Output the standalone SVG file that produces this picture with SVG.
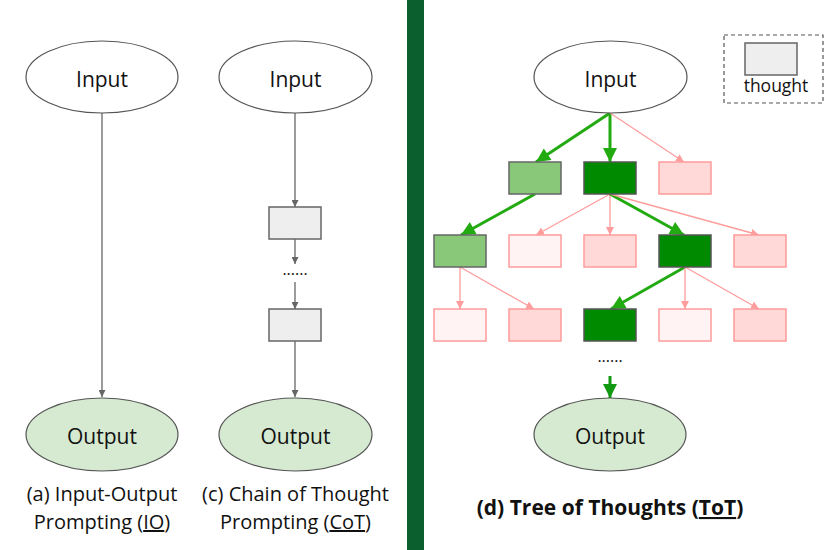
<svg xmlns="http://www.w3.org/2000/svg" width="840" height="550" viewBox="0 0 840 550">
<defs>
<style>
.t{font-family:"Open Sans","Liberation Sans",sans-serif;fill:#111;}
.lbl{font-size:21px;text-anchor:middle;}
.cap{font-size:20px;text-anchor:middle;}
.bold{font-size:21px;font-weight:bold;text-anchor:middle;}
.dots{font-size:16px;text-anchor:middle;}
.ein{fill:#fff;stroke:#555;stroke-width:1.2;}
.eout{fill:#d5ead0;stroke:#555;stroke-width:1.2;}
.gray{fill:#eeeeee;stroke:#666;stroke-width:1.5;}
.lg{fill:#88c878;stroke:#666;stroke-width:1.5;}
.dg{fill:#008a00;stroke:#555;stroke-width:1.5;}
.pk{fill:#ffd8d8;stroke:#ff9c9c;stroke-width:1.5;}
.vp{fill:#fff3f3;stroke:#ff9c9c;stroke-width:1.5;}
.eg{stroke:#666;stroke-width:1.3;fill:none;marker-end:url(#ag);}
.ep{stroke:#ff9c9c;stroke-width:1.3;fill:none;marker-end:url(#ap);}
.ex{stroke:#22aa11;stroke-width:3;fill:none;marker-end:url(#ax);}
</style>
<marker id="ag" viewBox="0 0 10 10" refX="10" refY="5" markerUnits="userSpaceOnUse" markerWidth="9" markerHeight="7" orient="auto"><path d="M0,0 L10,5 L0,10z" fill="#666"/></marker>
<marker id="ap" viewBox="0 0 10 10" refX="10" refY="5" markerUnits="userSpaceOnUse" markerWidth="8" markerHeight="8" orient="auto"><path d="M0,0 L10,5 L0,10z" fill="#ff9c9c"/></marker>
<marker id="ax" viewBox="0 0 10 10" refX="10" refY="5" markerUnits="userSpaceOnUse" markerWidth="16" markerHeight="14" orient="auto"><path d="M0,0 L10,5 L0,10z" fill="#22aa11"/></marker>
<marker id="ad" viewBox="0 0 10 10" refX="10" refY="5" markerUnits="userSpaceOnUse" markerWidth="15" markerHeight="14" orient="auto"><path d="M0,0 L10,5 L0,10z" fill="#129912"/></marker>
</defs>
<rect width="840" height="550" fill="#fff"/>
<rect id="divider" x="407" y="0" width="17" height="550" fill="#0b5e2e"/>

<g id="connectors">
<line class="eg" x1="102" y1="113" x2="102" y2="397"/>
<line class="eg" x1="295" y1="113" x2="295" y2="207"/>
<line class="eg" x1="295" y1="239" x2="295" y2="264"/>
<line class="eg" x1="295" y1="282" x2="295" y2="309"/>
<line class="eg" x1="295" y1="341" x2="295" y2="397"/>

<line class="ex" x1="610" y1="113" x2="536" y2="162"/>
<line class="ex" x1="610" y1="113" x2="610" y2="162"/>
<line class="ep" x1="610" y1="113" x2="684" y2="162"/>
<line class="ex" x1="535" y1="194" x2="461" y2="235"/>
<line class="ep" x1="610" y1="194" x2="536" y2="235"/>
<line class="ep" x1="610" y1="194" x2="610" y2="235"/>
<line class="ex" x1="610" y1="194" x2="684" y2="235"/>
<line class="ep" x1="610" y1="194" x2="759" y2="235"/>
<line class="ep" x1="460" y1="267" x2="460" y2="309"/>
<line class="ep" x1="460" y1="267" x2="534" y2="309"/>
<line class="ex" x1="685" y1="267" x2="611" y2="309"/>
<line class="ep" x1="685" y1="267" x2="685" y2="309"/>
<line class="ep" x1="685" y1="267" x2="759" y2="309"/>
<line x1="610" y1="376" x2="610" y2="398" stroke="#129912" stroke-width="3" marker-end="url(#ad)"/>
</g>

<g id="io-input"><ellipse class="ein" cx="102" cy="77" rx="76" ry="36"/><text class="t lbl" x="102" y="87">Input</text></g>
<g id="io-output"><ellipse class="eout" cx="102" cy="434.5" rx="76" ry="36.5"/><text class="t lbl" x="102" y="444">Output</text></g>
<g id="io-caption"><text class="t cap" x="102" y="501">(a) Input-Output</text><text class="t cap" x="102" y="529">Prompting (<tspan text-decoration="underline">IO</tspan>)</text></g>

<g id="cot-input"><ellipse class="ein" cx="295.5" cy="77" rx="76.5" ry="36"/><text class="t lbl" x="295.5" y="87">Input</text></g>
<g id="cot-t1"><rect class="gray" x="269" y="207" width="52" height="32"/></g>
<g id="cot-dots"><text class="t dots" x="295" y="275">......</text></g>
<g id="cot-t2"><rect class="gray" x="269" y="309" width="52" height="32"/></g>
<g id="cot-output"><ellipse class="eout" cx="295.5" cy="434.5" rx="76.5" ry="36.5"/><text class="t lbl" x="295.5" y="444">Output</text></g>
<g id="cot-caption"><text class="t cap" x="295.5" y="501">(c) Chain of Thought</text><text class="t cap" x="295.5" y="529">Prompting (<tspan text-decoration="underline">CoT</tspan>)</text></g>

<g id="legend"><rect x="724" y="35" width="99" height="68" fill="none" stroke="#555" stroke-width="1.2" stroke-dasharray="4,3"/><rect class="gray" x="745" y="43" width="52" height="32"/><text class="t" x="776" y="92" font-size="17.5" text-anchor="middle">thought</text></g>

<g id="tot-input"><ellipse class="ein" cx="610.5" cy="77" rx="76.5" ry="36"/><text class="t lbl" x="610.5" y="87">Input</text></g>
<g id="r1a"><rect class="lg" x="509" y="162" width="52" height="32"/></g>
<g id="r1b"><rect class="dg" x="584" y="162" width="52" height="32"/></g>
<g id="r1c"><rect class="pk" x="659" y="162" width="52" height="32"/></g>
<g id="r2a"><rect class="lg" x="434" y="235" width="52" height="32"/></g>
<g id="r2b"><rect class="vp" x="509" y="235" width="52" height="32"/></g>
<g id="r2c"><rect class="pk" x="584" y="235" width="52" height="32"/></g>
<g id="r2d"><rect class="dg" x="659" y="235" width="52" height="32"/></g>
<g id="r2e"><rect class="pk" x="734" y="235" width="52" height="32"/></g>
<g id="r3a"><rect class="vp" x="434" y="309" width="52" height="32"/></g>
<g id="r3b"><rect class="pk" x="509" y="309" width="52" height="32"/></g>
<g id="r3c"><rect class="dg" x="584" y="309" width="52" height="32"/></g>
<g id="r3d"><rect class="vp" x="659" y="309" width="52" height="32"/></g>
<g id="r3e"><rect class="pk" x="734" y="309" width="52" height="32"/></g>
<g id="tot-dots"><text class="t dots" x="610" y="362">......</text></g>
<g id="tot-output"><ellipse class="eout" cx="610" cy="434.5" rx="76" ry="36.5"/><text class="t lbl" x="610" y="444">Output</text></g>
<g id="tot-caption"><text class="t bold" x="610" y="515">(d) Tree of Thoughts (<tspan text-decoration="underline">ToT</tspan>)</text></g>
</svg>
